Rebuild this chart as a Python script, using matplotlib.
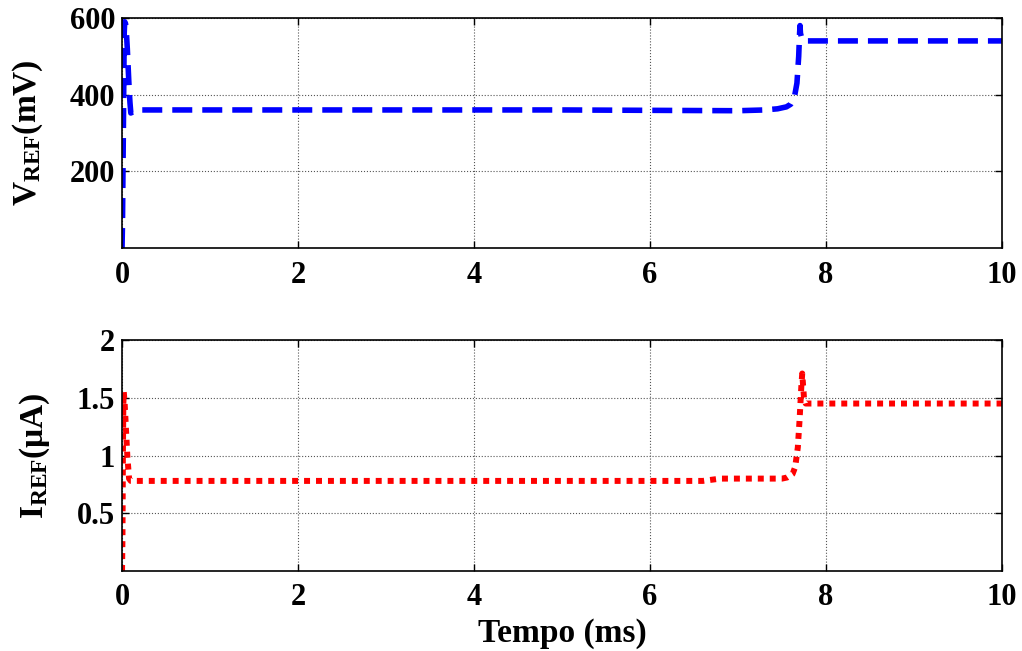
import matplotlib
matplotlib.use("Agg")
import matplotlib.pyplot as plt

plt.rcParams['font.family'] = ['Liberation Serif', 'DejaVu Serif']
plt.rcParams['font.weight'] = 'bold'
plt.rcParams['mathtext.fontset'] = 'custom'
plt.rcParams['mathtext.rm'] = 'Liberation Serif:bold'
plt.rcParams['mathtext.bf'] = 'Liberation Serif:bold'
plt.rcParams['mathtext.it'] = 'Liberation Serif:bold'

# Time (ms) and V_REF (mV)
t_v = [0.0, 0.005, 0.015, 0.025, 0.03, 0.04, 0.05, 0.06, 0.07, 0.08, 0.09, 0.1, 0.13, 0.2, 0.5,
       2.0, 5.0, 7.0, 7.3, 7.45, 7.55, 7.6, 7.64, 7.67, 7.69, 7.70, 7.705, 7.71, 7.73, 7.76, 7.8, 10.0]
v_ref = [0, 60, 300, 560, 590, 585, 560, 520, 470, 420, 380, 352, 356, 360, 360,
         360, 360, 358, 360, 363, 368, 375, 392, 430, 500, 560, 580, 560, 542, 540, 540, 540]

# Time (ms) and I_REF (uA)
t_i = [0.0, 0.005, 0.01, 0.015, 0.02, 0.03, 0.04, 0.05, 0.06, 0.07, 0.08, 0.1, 0.2, 1.0,
       4.0, 6.6, 6.8, 7.4, 7.5, 7.56, 7.62, 7.65, 7.68, 7.70, 7.72, 7.73, 7.75, 7.77, 7.8, 10.0]
i_ref = [0.0, 0.3, 1.0, 1.45, 1.55, 1.45, 1.3, 1.15, 1.0, 0.9, 0.8, 0.78, 0.78, 0.78,
         0.78, 0.78, 0.80, 0.80, 0.80, 0.81, 0.84, 0.90, 1.07, 1.31, 1.6, 1.71, 1.5, 1.45, 1.45, 1.45]

x_ticks = [0, 2, 4, 6, 8, 10]
v_ticks = [200, 400, 600]
i_ticks = [0.5, 1, 1.5, 2]
i_ticklabels = ['0.5', '1', '1.5', '2']

fig = plt.figure(figsize=(10.22, 6.51), dpi=100)
ax1 = fig.add_axes([0.1194, 0.619, 0.861, 0.3535])
ax2 = fig.add_axes([0.1194, 0.1229, 0.861, 0.3548])

ax1.plot(t_v, v_ref, color='#0000ff', lw=4, dashes=(3.6, 1.8), solid_capstyle='butt', dash_capstyle='butt')
ax2.plot(t_i, i_ref, color='#ff0000', lw=4.3, linestyle=(0, (1, 1)), dash_capstyle='butt')

ax1.set_xlim(0, 10)
ax1.set_ylim(0, 600)
ax2.set_xlim(0, 10)
ax2.set_ylim(0, 2)

ax1.set_yticks(v_ticks)
ax2.set_yticks(i_ticks)
ax2.set_yticklabels(i_ticklabels)
for ax in (ax1, ax2):
    ax.set_xticks(x_ticks)
    ax.grid(True, color='#555555', linestyle=':', linewidth=0.8)
    ax.tick_params(direction='in', length=5, width=1, top=True, right=True, labelsize=22)
    ax.tick_params(axis='x', pad=9)
    ax.tick_params(axis='y', pad=5)
    for lab in ax.get_xticklabels() + ax.get_yticklabels():
        lab.set_fontweight('bold')
    for s in ax.spines.values():
        s.set_linewidth(1.2)

ax1.set_ylabel(r'V$_{\mathrm{REF}}$(mV)', fontsize=24, fontweight='bold', labelpad=18)
ax2.set_ylabel(r'I$_{\mathrm{REF}}$(μA)', fontsize=24, fontweight='bold', labelpad=18)
ax2.set_xlabel('Tempo (ms)', fontsize=24, fontweight='bold', labelpad=4)

fig.savefig('out.png', dpi=100)
